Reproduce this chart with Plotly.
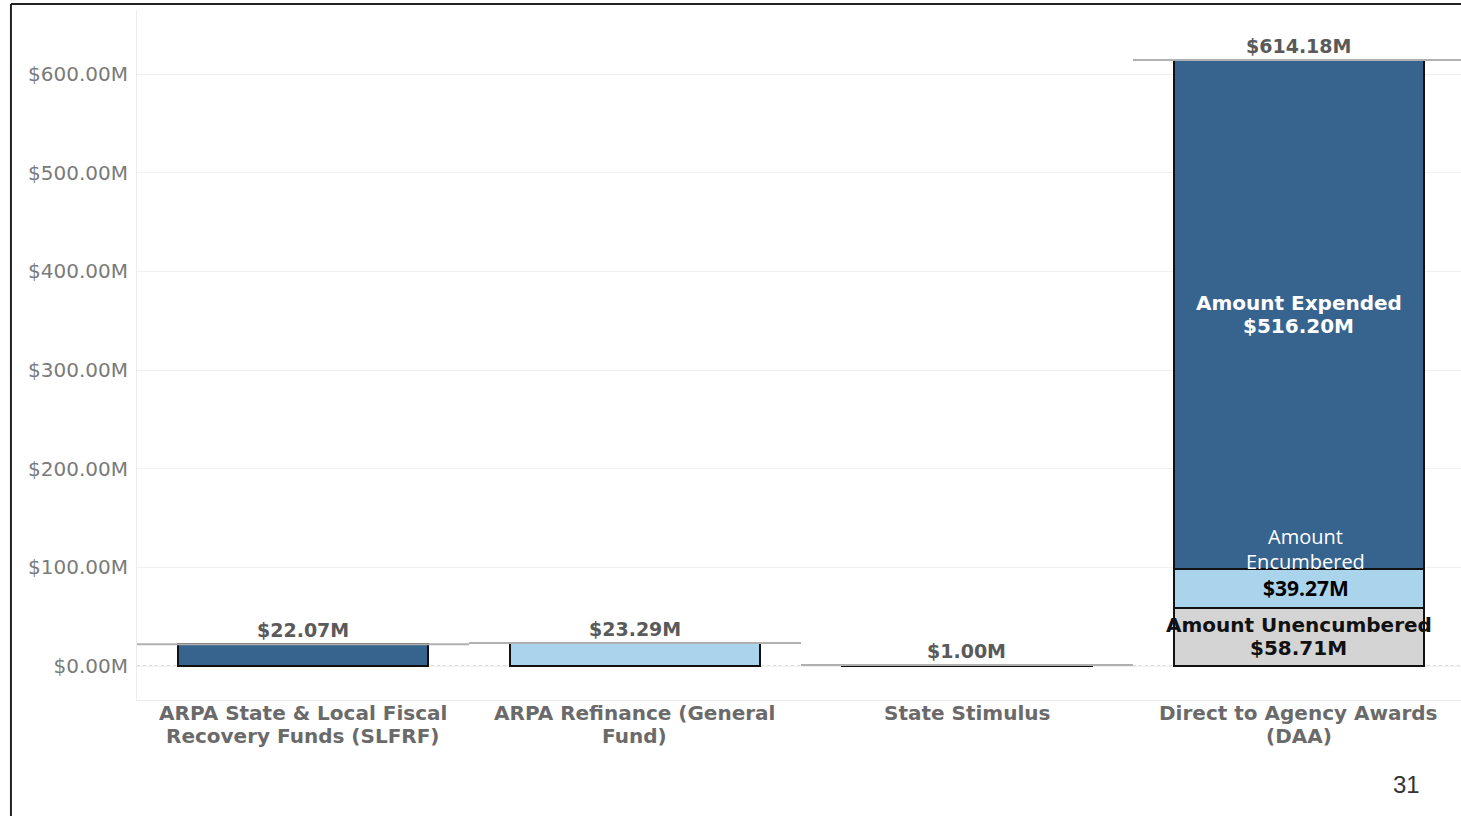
import plotly.graph_objects as go

categories = ["ARPA State & Local Fiscal<br>Recovery Funds (SLFRF)",
              "ARPA Refinance (General<br>Fund)",
              "State Stimulus",
              "Direct to Agency Awards<br>(DAA)"]
expended = [22.07, None, 1.00, 516.20]
encumbered = [None, 23.29, None, 39.27]
unencumbered = [None, None, None, 58.71]
y_ticks = [0, 100, 200, 300, 400, 500, 600]
y_tick_labels = ["$%.2fM" % v for v in y_ticks]

DARK = "#37638f"
LIGHT = "#aad3ec"
GRAY = "#d4d4d4"
BOLD = "DejaVu Sans, Verdana, sans-serif"

def v(a):
    return a if a is not None else 0

totals = [v(a) + v(b) + v(c) for a, b, c in zip(expended, encumbered, unencumbered)]
xs = list(range(len(categories)))

fig = go.Figure()
for name, vals, col in [("Amount Unencumbered", unencumbered, GRAY),
                        ("Amount Encumbered", encumbered, LIGHT),
                        ("Amount Expended", expended, DARK)]:
    fig.add_trace(go.Bar(x=xs, y=vals, name=name, width=0.752,
                         marker=dict(color=col, line=dict(color="#111111", width=2)),
                         hoverinfo="skip"))

# reference lines at totals spanning each band
for i, t in enumerate(totals):
    fig.add_trace(go.Scatter(x=[i - 0.5, i + 0.5], y=[t, t], mode="lines",
                             line=dict(color="#b0b0b0", width=2), hoverinfo="skip"))

fig.update_layout(
    width=1461, height=816,
    margin=dict(l=137, r=0, t=10, b=116),
    barmode="stack", showlegend=False,
    plot_bgcolor="white", paper_bgcolor="white",
    font=dict(family="Liberation Sans, Arial, sans-serif"),
)
fig.update_xaxes(range=[-0.5, 3.488], tickmode="array", tickvals=xs,
                 showticklabels=False,
                 showgrid=False, zeroline=False, ticks="",
                 showline=True, linecolor="#ececec", linewidth=1)
fig.update_yaxes(range=[-34.46, 664.9], tickmode="array", tickvals=y_ticks,
                 ticktext=y_tick_labels,
                 tickfont=dict(size=20, color="#7a7a7a", family="DejaVu Sans"),
                 showgrid=True, gridcolor="#f0f0f0", gridwidth=1, zeroline=False,
                 ticks="", ticklabelstandoff=4,
                 showline=True, linecolor="#ececec", linewidth=1)

# dotted zero line
fig.add_shape(type="line", xref="paper", yref="y", x0=0, x1=1, y0=0, y1=0,
              line=dict(color="#b8b8b8", width=1, dash="dot"), layer="below")

def lines(x, y, text, shifts, size, color, family, xref="x", yref="y", xshift=0):
    for line, s in zip(text.split("<br>"), shifts):
        fig.add_annotation(x=x, y=y, xref=xref, yref=yref, text=line, showarrow=False,
                           xanchor="center", yanchor="middle", yshift=s, xshift=xshift,
                           font=dict(size=size, color=color, family=family))

# category labels (below plot area)
for i, c in enumerate(categories):
    lines(i, -34.46, "<br>".join("<b>%s</b>" % p for p in c.split("<br>")),
          [-13, -36], 20, "#6a6a6a", BOLD)

# total labels
for i, t in enumerate(totals):
    lines(i, t, "<b>$%.2fM</b>" % t, [14], 19, "#5a5a5a", BOLD)

# DAA inner labels
d = 3
u, e, x = unencumbered[d], encumbered[d], expended[d]
lines(d, u + e + x / 2, "<b>Amount Expended</b><br><b>$%.2fM</b>" % x, [12, -11], 20, "white", BOLD)
lines(d, u + e / 2, "Amount<br>Encumbered", [52, 27], 20, "white", "Open Sans", xshift=7)
lines(d, u + e / 2, "<b>$%.2fM</b>" % e, [1], 21, "black", "Open Sans", xshift=7)
lines(d, u / 2, "<b>Amount Unencumbered</b><br><b>$%.2fM</b>" % u, [12, -11], 20, "#111111", BOLD)

# slide border
fig.add_shape(type="line", xref="paper", yref="paper", x0=-0.0952, x1=-0.0952, y0=-0.2, y1=1.0087,
              line=dict(color="#222222", width=2))
fig.add_shape(type="line", xref="paper", yref="paper", x0=-0.0952, x1=1.05, y0=1.0087, y1=1.0087,
              line=dict(color="#222222", width=2))

# page number
fig.add_annotation(xref="paper", yref="paper", x=(1406 - 137) / 1324, y=(700 - 784) / 690,
                   xanchor="center", yanchor="middle",
                   text="31", showarrow=False, font=dict(size=24, color="#333333"))

fig.write_html("out.html")
